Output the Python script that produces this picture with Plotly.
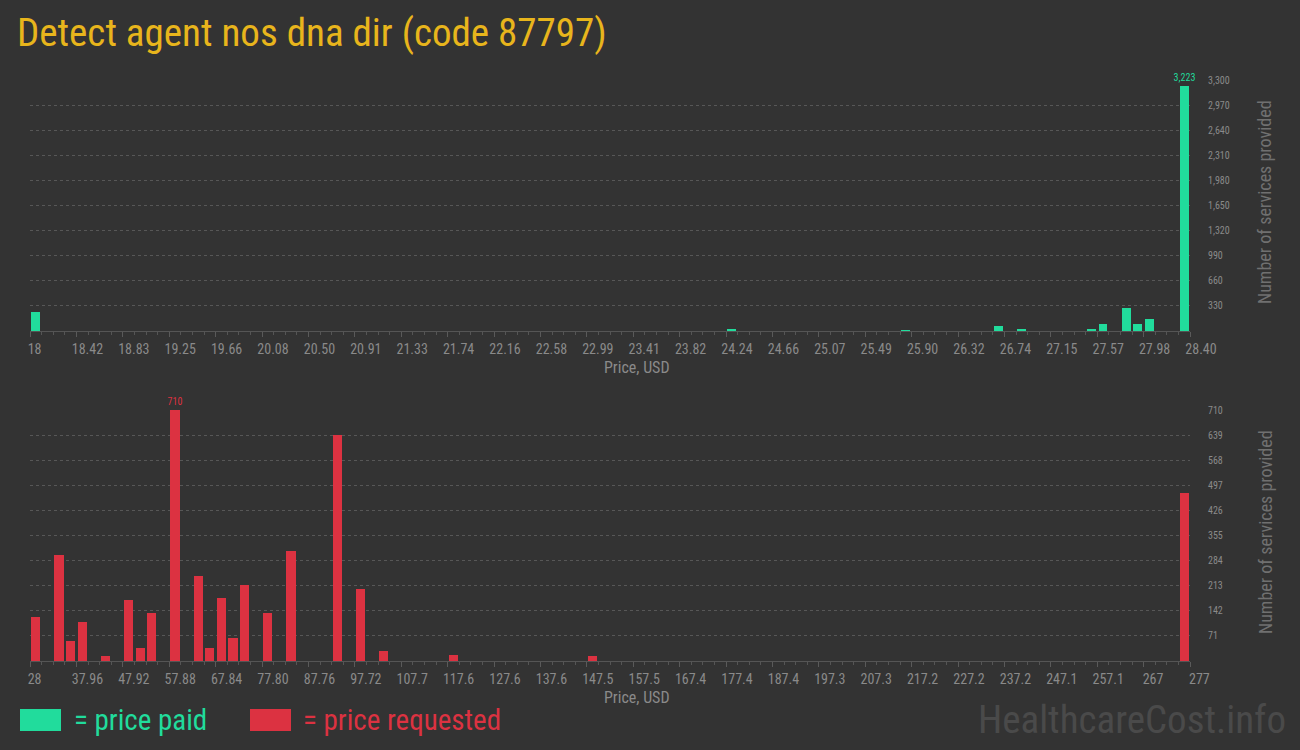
import plotly.graph_objects as go

# ---- data ----
paid_price = [18.052, 24.292, 25.852, 26.684, 26.892, 27.516, 27.620, 27.828, 27.932, 28.036, 28.348]
paid_count = [246, 18, 8, 61, 26, 22, 88, 299, 88, 154, 3223]

req_price = [29.245, 34.225, 36.715, 39.205, 44.185, 49.165, 51.655, 54.145, 59.125, 64.105,
             66.595, 69.085, 71.575, 74.065, 79.045, 84.025, 93.985, 98.965, 103.945, 118.885,
             148.765, 275.755]
req_count = [124, 300, 56, 110, 13, 172, 36, 135, 710, 240,
             36, 178, 64, 215, 135, 311, 640, 203, 27, 16,
             13, 475]

top_xticks = [18, 18.416, 18.832, 19.248, 19.664, 20.08, 20.496, 20.912, 21.328, 21.744, 22.16,
              22.576, 22.992, 23.408, 23.824, 24.24, 24.656, 25.072, 25.488, 25.904, 26.32,
              26.736, 27.152, 27.568, 27.984, 28.4]
top_xlabels = ["18\u00a0\u00a0\u00a0\u00a0", "18.42", "18.83", "19.25", "19.66", "20.08", "20.50", "20.91", "21.33", "21.74",
               "22.16", "22.58", "22.99", "23.41", "23.82", "24.24", "24.66", "25.07", "25.49", "25.90",
               "26.32", "26.74", "27.15", "27.57", "27.98", "28.40"]
top_yticks = [330, 660, 990, 1320, 1650, 1980, 2310, 2640, 2970, 3300]
top_ylabels = ["330", "660", "990", "1,320", "1,650", "1,980", "2,310", "2,640", "2,970", "3,300"]

bot_xticks = [28, 37.96, 47.92, 57.88, 67.84, 77.8, 87.76, 97.72, 107.68, 117.64, 127.6, 137.56,
              147.52, 157.48, 167.44, 177.4, 187.36, 197.32, 207.28, 217.24, 227.2, 237.16, 247.12,
              257.08, 267.04, 277]
bot_xlabels = ["28\u00a0\u00a0\u00a0\u00a0", "37.96", "47.92", "57.88", "67.84", "77.80", "87.76", "97.72", "107.7", "117.6",
               "127.6", "137.6", "147.5", "157.5", "167.4", "177.4", "187.4", "197.3", "207.3", "217.2",
               "227.2", "237.2", "247.1", "257.1", "267\u00a0", "277\u00a0"]
bot_yticks = [71, 142, 213, 284, 355, 426, 497, 568, 639, 710]
bot_ylabels = ["71", "142", "213", "284", "355", "426", "497", "568", "639", "710"]

GREEN = "#21dc9c"
RED = "#dc3241"
BG = "#333333"
TICKC = "#8a8a8a"
GRID = "#575757"
COND = "Roboto Condensed, Liberation Sans Narrow, Roboto, sans-serif"

def peak_labels(vals):
    m = max(vals)
    return [f"{v:,}" if v == m else "" for v in vals]

fig = go.Figure()
fig.add_trace(go.Bar(x=paid_price, y=paid_count, width=0.08, marker=dict(color=GREEN, line=dict(width=0)),
                     text=peak_labels(paid_count), textposition="outside", cliponaxis=False,
                     constraintext="none", textangle=0,
                     textfont=dict(color=GREEN, size=10, family=COND),
                     xaxis="x", yaxis="y", showlegend=False, hoverinfo="x+y"))
fig.add_trace(go.Bar(x=req_price, y=req_count, width=1.95, marker=dict(color=RED, line=dict(width=0)),
                     text=peak_labels(req_count), textposition="outside", cliponaxis=False,
                     constraintext="none", textangle=0,
                     textfont=dict(color=RED, size=10, family=COND),
                     xaxis="x2", yaxis="y2", showlegend=False, hoverinfo="x+y"))

xl, xr = 30 / 1300, 1190 / 1300
def py(p):
    return 1 - p / 750

xcommon = dict(showgrid=False, zeroline=False, showline=True, linecolor="#555555", linewidth=1,
               ticks="outside", ticklen=5, tickcolor="#5a5a5a", tickwidth=1, tickmode="array",
               tickfont=dict(color=TICKC, size=14, family=COND), ticklabelshift=11,
               domain=[xl, xr], automargin=False)
ycommon = dict(side="right", showgrid=True, gridcolor=GRID, griddash="3px,3px", gridwidth=1,
               zeroline=False, showline=False, ticks="", tickmode="array", ticklabelstandoff=17,
               tickfont=dict(color=TICKC, size=10, family=COND), automargin=False)

fig.update_layout(
    width=1300, height=750, margin=dict(l=0, r=0, t=0, b=0),
    paper_bgcolor=BG, plot_bgcolor=BG, bargap=0,
    xaxis=dict(xcommon, range=[18, 28.4], tickvals=top_xticks, ticktext=top_xlabels, anchor="y",
               minor=dict(dtick=0.104, tick0=18, ticks="outside", ticklen=3, tickcolor="#555555", showgrid=False)),
    yaxis=dict(ycommon, range=[0, 3300], tickvals=top_yticks, ticktext=top_ylabels, anchor="x",
               domain=[py(331), py(80)]),
    xaxis2=dict(xcommon, range=[28, 277], tickvals=bot_xticks, ticktext=bot_xlabels, anchor="y2",
                minor=dict(dtick=2.49, tick0=28, ticks="outside", ticklen=3, tickcolor="#555555", showgrid=False)),
    yaxis2=dict(ycommon, range=[0, 710], tickvals=bot_yticks, ticktext=bot_ylabels, anchor="x2",
                domain=[py(661), py(410)]),
)

ann = []
ann.append(dict(text="Detect agent nos dna dir (code 87797)", x=15 / 1300, y=py(33), xref="paper", yref="paper",
                xanchor="left", yanchor="middle", showarrow=False,
                font=dict(color="#e8b51c", size=39, family="Roboto Condensed, Roboto, sans-serif")))
for yc in (py(368), py(697)):
    ann.append(dict(text="Price, USD", x=637 / 1300, y=yc, xref="paper", yref="paper", showarrow=False,
                    xanchor="center", yanchor="middle", font=dict(color=TICKC, size=16, family=COND)))
for yc in (py(202), py(532)):
    ann.append(dict(text="Number of services provided", x=1265 / 1300, y=yc, xref="paper", yref="paper",
                    showarrow=False, textangle=-90, xanchor="center", yanchor="middle",
                    font=dict(color="#707070", size=18, family=COND)))
ann.append(dict(text="= price paid", x=72 / 1300, y=py(720), xref="paper", yref="paper", showarrow=False,
                xanchor="left", yanchor="middle", font=dict(color=GREEN, size=29, family=COND)))
ann.append(dict(text="= price requested", x=301 / 1300, y=py(720), xref="paper", yref="paper", showarrow=False,
                xanchor="left", yanchor="middle", font=dict(color=RED, size=29, family=COND)))
ann.append(dict(text="HealthcareCost.info", x=1288 / 1300, y=py(720), xref="paper", yref="paper", showarrow=False,
                xanchor="right", yanchor="middle", font=dict(color="#4a4a4a", size=39, family=COND)))
fig.update_layout(annotations=ann)

fig.add_shape(type="rect", xref="paper", yref="paper", x0=20 / 1300, x1=61 / 1300, y0=py(731), y1=py(709),
              fillcolor=GREEN, line=dict(width=0))
fig.add_shape(type="rect", xref="paper", yref="paper", x0=250 / 1300, x1=291 / 1300, y0=py(731), y1=py(709),
              fillcolor=RED, line=dict(width=0))

fig.write_html("out.html", config={"displayModeBar": False},
               post_script="document.body.style.margin='0';document.body.style.overflow='hidden';")
